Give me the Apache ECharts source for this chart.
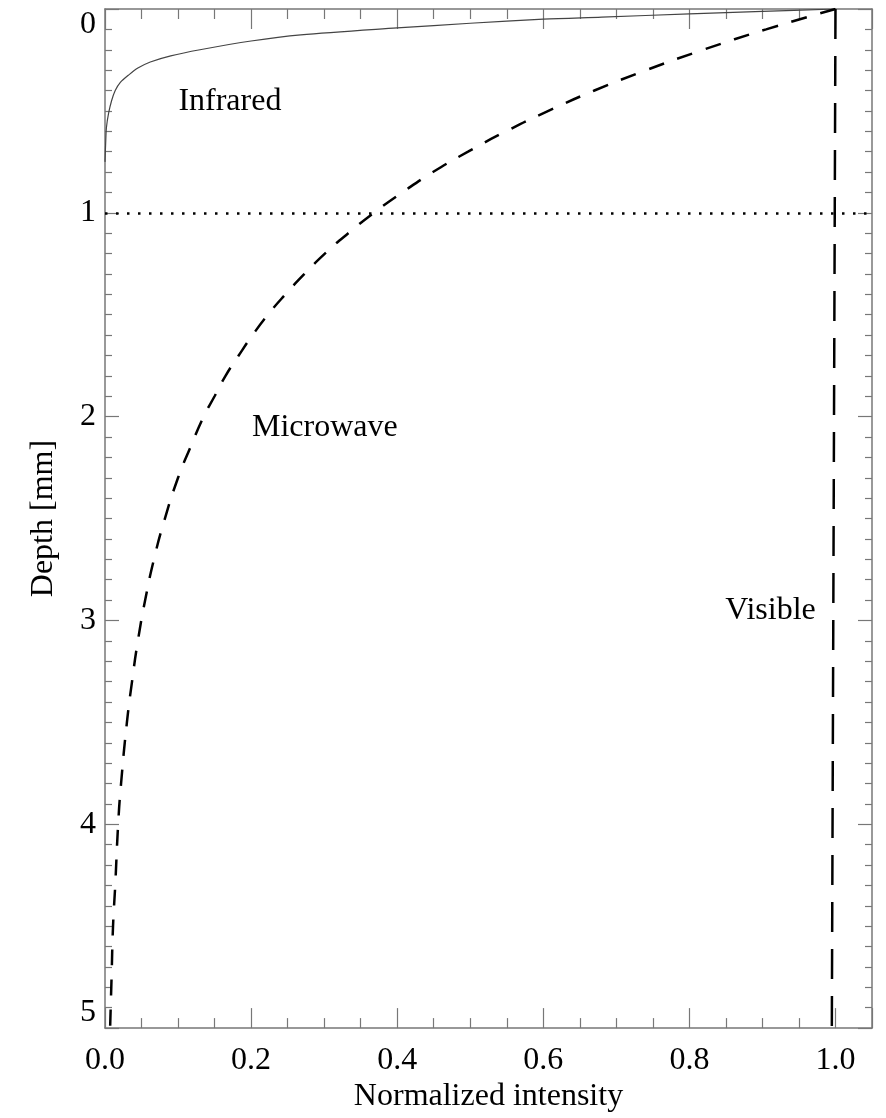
<!DOCTYPE html>
<html>
<head>
<meta charset="utf-8">
<script src="https://cdn.jsdelivr.net/npm/echarts@6/dist/echarts.min.js"></script>
<style>
  html, body { margin: 0; padding: 0; background: #fff; }
  #chart { width: 886px; height: 1118px; }
</style>
</head>
<body>
<div id="chart"></div>
<script>
// [intensity, depth mm]
const infrared = [
  [1.0, 0], [0.9, 0.012], [0.8, 0.024], [0.68, 0.04], [0.6, 0.05], [0.5, 0.07],
  [0.4, 0.093], [0.268, 0.127], [0.2, 0.157], [0.13, 0.2], [0.09, 0.23],
  [0.062, 0.26], [0.045, 0.29], [0.032, 0.325], [0.021, 0.36], [0.014, 0.4],
  [0.009, 0.45], [0.005, 0.51], [0.002, 0.58], [0.001, 0.65], [0.0, 0.75]
]
const microwave = [
  [1.0, 0], [0.905, 0.1], [0.819, 0.2], [0.741, 0.3], [0.67, 0.4], [0.607, 0.5],
  [0.549, 0.6], [0.497, 0.7], [0.449, 0.8], [0.407, 0.9], [0.368, 1.0],
  [0.333, 1.1], [0.301, 1.2], [0.273, 1.3], [0.247, 1.4], [0.223, 1.5],
  [0.202, 1.6], [0.183, 1.7], [0.165, 1.8], [0.15, 1.9], [0.135, 2.0],
  [0.117, 2.15], [0.1, 2.3], [0.082, 2.5], [0.067, 2.7], [0.055, 2.9],
  [0.045, 3.1], [0.037, 3.3], [0.03, 3.5], [0.022, 3.8], [0.018, 4.0],
  [0.014, 4.3], [0.011, 4.5], [0.009, 4.75], [0.007, 5.0]
]
const visible = [[1.0, 0], [0.995, 5]]
const refDepth = 1
const labels = [
  { name: 'Infrared', value: [0.171, 0.453] },
  { name: 'Microwave', value: [0.301, 2.056] },
  { name: 'Visible', value: [0.911, 2.953] }
]

const font = 'Liberation Serif'
const axisColor = '#777'

const baseX = {
  type: 'value', min: 0, max: 1.05, interval: 0.2,
  axisLine: { show: true, onZero: false, lineStyle: { color: axisColor, width: 1.5 } },
  axisTick: { show: true, inside: true, length: 20, lineStyle: { color: axisColor, width: 1.2 } },
  minorTick: { show: true, splitNumber: 4, length: 10, lineStyle: { color: axisColor, width: 1.2 } },
  splitLine: { show: false }
}
const baseY = {
  type: 'value', min: 0, max: 5, interval: 1, inverse: true,
  axisLine: { show: true, onZero: false, lineStyle: { color: axisColor, width: 1.5 } },
  axisTick: { show: true, inside: true, length: 14, lineStyle: { color: axisColor, width: 1.2 } },
  minorTick: { show: true, splitNumber: 10, length: 7, lineStyle: { color: axisColor, width: 1.2 } },
  splitLine: { show: false }
}

const chart = echarts.init(document.getElementById('chart'))
chart.setOption({
  animation: false,
  backgroundColor: '#fff',
  grid: { left: 105, right: 14, top: 9, bottom: 83 },
  xAxis: [
    Object.assign({}, baseX, {
      position: 'bottom',
      name: 'Normalized intensity', nameLocation: 'middle', nameGap: 51,
      nameTextStyle: { fontFamily: font, fontSize: 32, color: '#000' },
      axisLabel: {
        show: true, margin: 16, showMaxLabel: false,
        fontFamily: font, fontSize: 32, color: '#000',
        formatter: v => v.toFixed(1)
      }
    }),
    Object.assign({}, baseX, { position: 'top', axisLabel: { show: false } })
  ],
  yAxis: [
    Object.assign({}, baseY, {
      position: 'left',
      name: 'Depth [mm]', nameLocation: 'middle', nameGap: 45,
      nameTextStyle: { fontFamily: font, fontSize: 32, color: '#000' },
      axisLabel: {
        show: true, margin: 9, fontFamily: font, fontSize: 32, color: '#000',
        verticalAlignMinLabel: 'top', verticalAlignMaxLabel: 'bottom'
      }
    }),
    Object.assign({}, baseY, { position: 'right', axisLabel: { show: false } })
  ],
  series: [
    {
      name: 'Infrared', type: 'line', data: infrared, smooth: 0.3,
      showSymbol: false, lineStyle: { color: '#444', width: 1.2 },
      markLine: {
        silent: true, symbol: 'none', label: { show: false },
        lineStyle: { color: '#000', width: 2.5, type: [2.5, 8.5] },
        data: [{ yAxis: refDepth }]
      }
    },
    {
      name: 'Microwave', type: 'line', data: microwave, smooth: true,
      showSymbol: false, lineStyle: { color: '#000', width: 2.5, type: [16, 14] }
    },
    {
      name: 'Visible', type: 'line', data: visible,
      showSymbol: false, lineStyle: { color: '#000', width: 2.5, type: [30, 17] }
    },
    {
      name: 'labels', type: 'scatter', data: labels, symbolSize: 0,
      itemStyle: { opacity: 1, color: '#000' },
      label: {
        show: true, position: 'inside', formatter: '{b}',
        fontFamily: font, fontSize: 32, color: '#000', opacity: 1
      }
    }
  ]
})
</script>
</body>
</html>
